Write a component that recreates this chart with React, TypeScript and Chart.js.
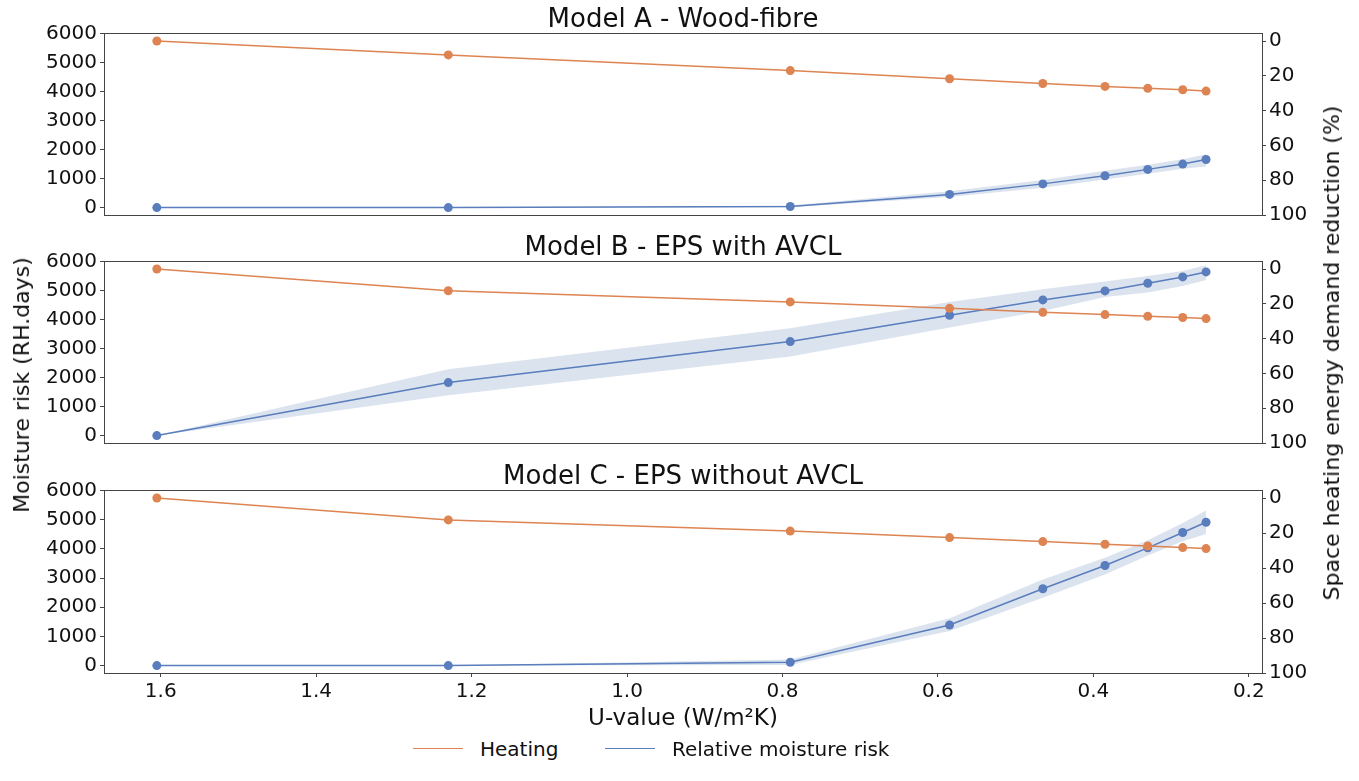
import { useEffect, useRef } from "react";
import { Chart, registerables } from "chart.js";

Chart.register(...registerables);

// U-values of the simulated walls (x axis, shown reversed)
const uValues = [1.605, 1.23, 0.79, 0.585, 0.465, 0.385, 0.33, 0.285, 0.255];

// space heating energy demand reduction (%), right axis
const heatingA = [0, 8, 17, 21.7, 24.4, 26.1, 27.2, 28, 28.8];
const heatingB = [0, 12.5, 18.9, 22.6, 24.9, 26.2, 27.2, 27.9, 28.5];
const heatingC = [0, 12.5, 18.9, 22.6, 24.9, 26.4, 27.4, 28.3, 28.9];

// moisture risk (RH.days), left axis, mean and band
const riskA = [0, 0, 40, 455, 818, 1100, 1318, 1500, 1659];
const riskALow = [0, 0, 10, 364, 682, 966, 1170, 1341, 1420];
const riskAHigh = [0, 0, 70, 568, 955, 1273, 1477, 1670, 1840];

const riskB = [0, 1828, 3241, 4149, 4678, 4989, 5253, 5471, 5644];
const riskBLow = [0, 1390, 2724, 3724, 4299, 4782, 4931, 5161, 5368];
const riskBHigh = [0, 2287, 3701, 4609, 5046, 5310, 5506, 5678, 5874];

const riskC = [0, 0, 114, 1391, 2634, 3432, 4036, 4561, 4914];
const riskCLow = [0, 0, 23, 1186, 2326, 3124, 3774, 4265, 4515];
const riskCHigh = [0, 0, 205, 1619, 2953, 3694, 4299, 4892, 5314];

const leftTicks = [0, 1000, 2000, 3000, 4000, 5000, 6000];
const rightTicks = [0, 20, 40, 60, 80, 100];
const xTicks = [1.6, 1.4, 1.2, 1.0, 0.8, 0.6, 0.4, 0.2];

const ORANGE = "#dd8452";
const BLUE = "#5a7dbd";
const BAND = "rgba(76, 114, 176, 0.2)";
const AXIS = "#444";
const TEXT = "#111";
const FONT = "'DejaVu Sans', sans-serif";

const W = 1359;

const frame = {
  id: "frame",
  afterDraw(chart: Chart) {
    const { ctx, chartArea: a } = chart;
    ctx.save();
    ctx.strokeStyle = AXIS;
    ctx.lineWidth = 1;
    ctx.strokeRect(a.left + 0.5, a.top + 0.5, a.right - a.left, a.bottom - a.top);
    ctx.restore();
  },
};

type PanelProps = {
  top: number;
  heating: number[];
  risk: number[];
  low: number[];
  high: number[];
  showX: boolean;
};

function Panel({ top, heating, risk, low, high, showX }: PanelProps) {
  const canvasRef = useRef<HTMLCanvasElement>(null);
  const height = showX ? 228 : 208;

  useEffect(() => {
    const ctx = canvasRef.current?.getContext("2d");
    if (!ctx) return;

    const pts = (ys: number[]) => uValues.map((x, i) => ({ x, y: ys[i] }));
    const tickFont = { family: FONT, size: 20, lineHeight: 1 };

    const chart = new Chart(ctx, {
      type: "line",
      data: {
        datasets: [
          {
            data: pts(heating),
            yAxisID: "y1",
            borderColor: ORANGE,
            backgroundColor: ORANGE,
            borderWidth: 1.5,
            pointRadius: 4.5,
            pointBorderWidth: 0,
            order: 0,
          },
          {
            data: pts(risk),
            yAxisID: "y",
            borderColor: BLUE,
            backgroundColor: BLUE,
            borderWidth: 1.5,
            pointRadius: 4.5,
            pointBorderWidth: 0,
            order: 1,
          },
          {
            data: pts(high),
            yAxisID: "y",
            borderWidth: 0,
            pointRadius: 0,
            backgroundColor: BAND,
            fill: "+1",
            order: 2,
          },
          {
            data: pts(low),
            yAxisID: "y",
            borderWidth: 0,
            pointRadius: 0,
            fill: false,
            order: 3,
          },
        ],
      },
      options: {
        responsive: false,
        animation: false,
        events: [],
        layout: { padding: { top: 12, bottom: showX ? 0 : 12, left: 0, right: 0 } },
        plugins: { legend: { display: false }, tooltip: { enabled: false } },
        scales: {
          x: {
            type: "linear",
            min: 0.183,
            max: 1.673,
            reverse: true,
            display: showX,
            border: { display: false },
            grid: { drawOnChartArea: false, drawTicks: true, tickLength: 4, color: AXIS },
            ticks: {
              color: TEXT,
              font: tickFont,
              padding: 5,
              maxRotation: 0,
              callback: (v) => Number(v).toFixed(1),
            },
            afterBuildTicks: (axis) => {
              axis.ticks = xTicks.map((value) => ({ value }));
            },
            afterFit: (axis) => {
              axis.height = showX ? 32 : 0;
            },
          },
          y: {
            position: "left",
            min: -255,
            max: 6020,
            border: { display: false },
            grid: { drawOnChartArea: false, drawTicks: true, tickLength: 4, color: AXIS },
            ticks: { color: TEXT, font: tickFont, padding: 3, callback: (v) => String(v) },
            afterBuildTicks: (axis) => {
              axis.ticks = leftTicks.map((value) => ({ value }));
            },
            afterFit: (axis) => {
              axis.width = 104;
            },
          },
          y1: {
            position: "right",
            min: -4.6,
            max: 100,
            reverse: true,
            border: { display: false },
            grid: { drawOnChartArea: false, drawTicks: true, tickLength: 4, color: AXIS },
            ticks: { color: TEXT, font: tickFont, padding: 3, callback: (v) => String(v) },
            afterBuildTicks: (axis) => {
              axis.ticks = rightTicks.map((value) => ({ value }));
            },
            afterFit: (axis) => {
              axis.width = 97;
            },
          },
        },
      },
      plugins: [frame],
    });

    return () => chart.destroy();
  }, [heating, risk, low, high, showX]);

  return (
    <canvas
      ref={canvasRef}
      width={W}
      height={height}
      style={{ position: "absolute", left: 0, top, width: W, height }}
    />
  );
}

function Label({
  x,
  y,
  size,
  rotate = 0,
  children,
}: {
  x: number;
  y: number;
  size: number;
  rotate?: number;
  children: string;
}) {
  return (
    <div
      style={{
        position: "absolute",
        left: x,
        top: y,
        transform: `translate(-50%, -50%) rotate(${rotate}deg)`,
        fontFamily: FONT,
        fontSize: size,
        lineHeight: 1,
        color: TEXT,
        whiteSpace: "nowrap",
      }}
    >
      {children}
    </div>
  );
}

function LegendItem({ x, color, text }: { x: number; color: string; text: string }) {
  return (
    <>
      <div
        style={{
          position: "absolute",
          left: x,
          top: 748,
          width: 50,
          borderTop: `1.5px solid ${color}`,
        }}
      />
      <div
        style={{
          position: "absolute",
          left: x + 67,
          top: 749,
          transform: "translateY(-50%)",
          fontFamily: FONT,
          fontSize: 20,
          lineHeight: 1,
          color: TEXT,
          whiteSpace: "nowrap",
        }}
      >
        {text}
      </div>
    </>
  );
}

export default function App() {
  return (
    <div
      style={{
        position: "absolute",
        left: 0,
        top: 0,
        width: W,
        height: 781,
        background: "#fff",
        overflow: "hidden",
      }}
    >
      <Panel top={20} heating={heatingA} risk={riskA} low={riskALow} high={riskAHigh} showX={false} />
      <Panel top={248} heating={heatingB} risk={riskB} low={riskBLow} high={riskBHigh} showX={false} />
      <Panel top={477} heating={heatingC} risk={riskC} low={riskCLow} high={riskCHigh} showX={true} />

      <Label x={683} y={18} size={26}>Model A - Wood-fibre</Label>
      <Label x={683} y={246} size={26}>Model B - EPS with AVCL</Label>
      <Label x={683} y={475} size={26}>Model C - EPS without AVCL</Label>

      <Label x={22} y={385} size={22} rotate={-90}>Moisture risk (RH.days)</Label>
      <Label x={1332} y={353} size={22} rotate={-90}>Space heating energy demand reduction (%)</Label>
      <Label x={683} y={717} size={23}>U-value (W/m²K)</Label>

      <LegendItem x={413} color={ORANGE} text="Heating" />
      <LegendItem x={605} color={BLUE} text="Relative moisture risk" />
    </div>
  );
}
